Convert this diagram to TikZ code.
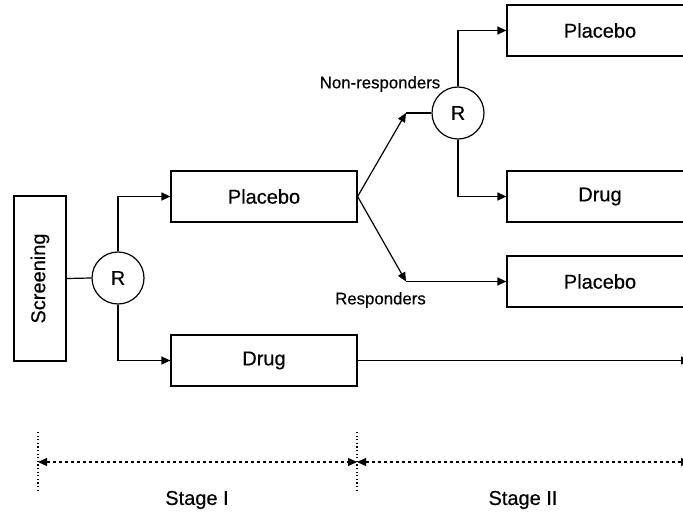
\documentclass[tikz,border=0pt]{standalone}
\usepackage{fontspec}
\setmainfont{Liberation Sans}[FakeBold=0.4]
\usetikzlibrary{arrows.meta}
\begin{document}
\begin{tikzpicture}[x=1pt,y=-1pt,
  every node/.style={font=\fontsize{20}{23}\selectfont},
  box/.style={draw,line width=1.2pt,minimum width=186pt,minimum height=51pt,inner sep=0pt},
  rnd/.style={draw,circle,line width=1.2pt,minimum size=52pt,inner sep=0pt},
  lbl/.style={font=\fontsize{16.8}{19}\selectfont,inner sep=0pt},
  conn/.style={line width=1.2pt},
  arr/.style={line width=1.2pt,-{Triangle[length=9pt,width=8pt]}},
  dim/.style={line width=1.2pt,dash pattern=on 3pt off 3pt,{Triangle[length=9pt,width=8pt]}-{Triangle[length=9pt,width=8pt]}},
  guide/.style={line width=1.2pt,dash pattern=on 1.2pt off 2.4pt}
]
\useasboundingbox (0,0) rectangle (683,516);
\clip (0,0) rectangle (683,516);
\node[box,rotate=90,minimum width=165pt,minimum height=52pt] (scr) at (40,278.5) {Screening};
\node[rnd] (r1) at (118,278) {R};
\node[box] (p1) at (264,196.5) {Placebo};
\node[box] (d1) at (264,360.5) {Drug};
\node[rnd] (r2) at (458,113) {R};
\node[box] (p2) at (600,30.5) {Placebo};
\node[box] (d2) at (600,196.5) {Drug};
\node[box] (p3) at (600,281.5) {Placebo};
\node[lbl] (nrl) at (380,84) {Non-responders};
\node[lbl] (rl) at (380.5,300) {Responders};
\node (s1) at (197,500) {Stage I};
\node (s2) at (523,500) {Stage II};
\coordinate (nr) at (406,113);
\coordinate (rr) at (406,281.5);
\coordinate (dend) at (690,360.5);
\draw[conn] (scr.south) -- (r1.west);
\draw[arr] (r1.north) |- (p1.west);
\draw[arr] (r1.south) |- (d1.west);
\draw[arr] (p1.east) -- (nr);
\draw[conn] (nr) -- (r2.west);
\draw[arr] (p1.east) -- (rr);
\draw[arr] (rr) -- (p3.west);
\draw[arr] (r2.north) |- (p2.west);
\draw[arr] (r2.south) |- (d2.west);
\draw[arr] (d1.east) -- (dend);
\coordinate (g1t) at (38,432);
\coordinate (g1b) at (38,493);
\coordinate (g2t) at (357,432);
\coordinate (g2b) at (357,493);
\coordinate (a1) at (38,462);
\coordinate (a2) at (357,462);
\coordinate (a3) at (690,462);
\draw[guide] (g1t) -- (g1b);
\draw[guide] (g2t) -- (g2b);
\draw[dim] (a1) -- (a2);
\draw[dim] (a2) -- (a3);
\end{tikzpicture}
\end{document}
